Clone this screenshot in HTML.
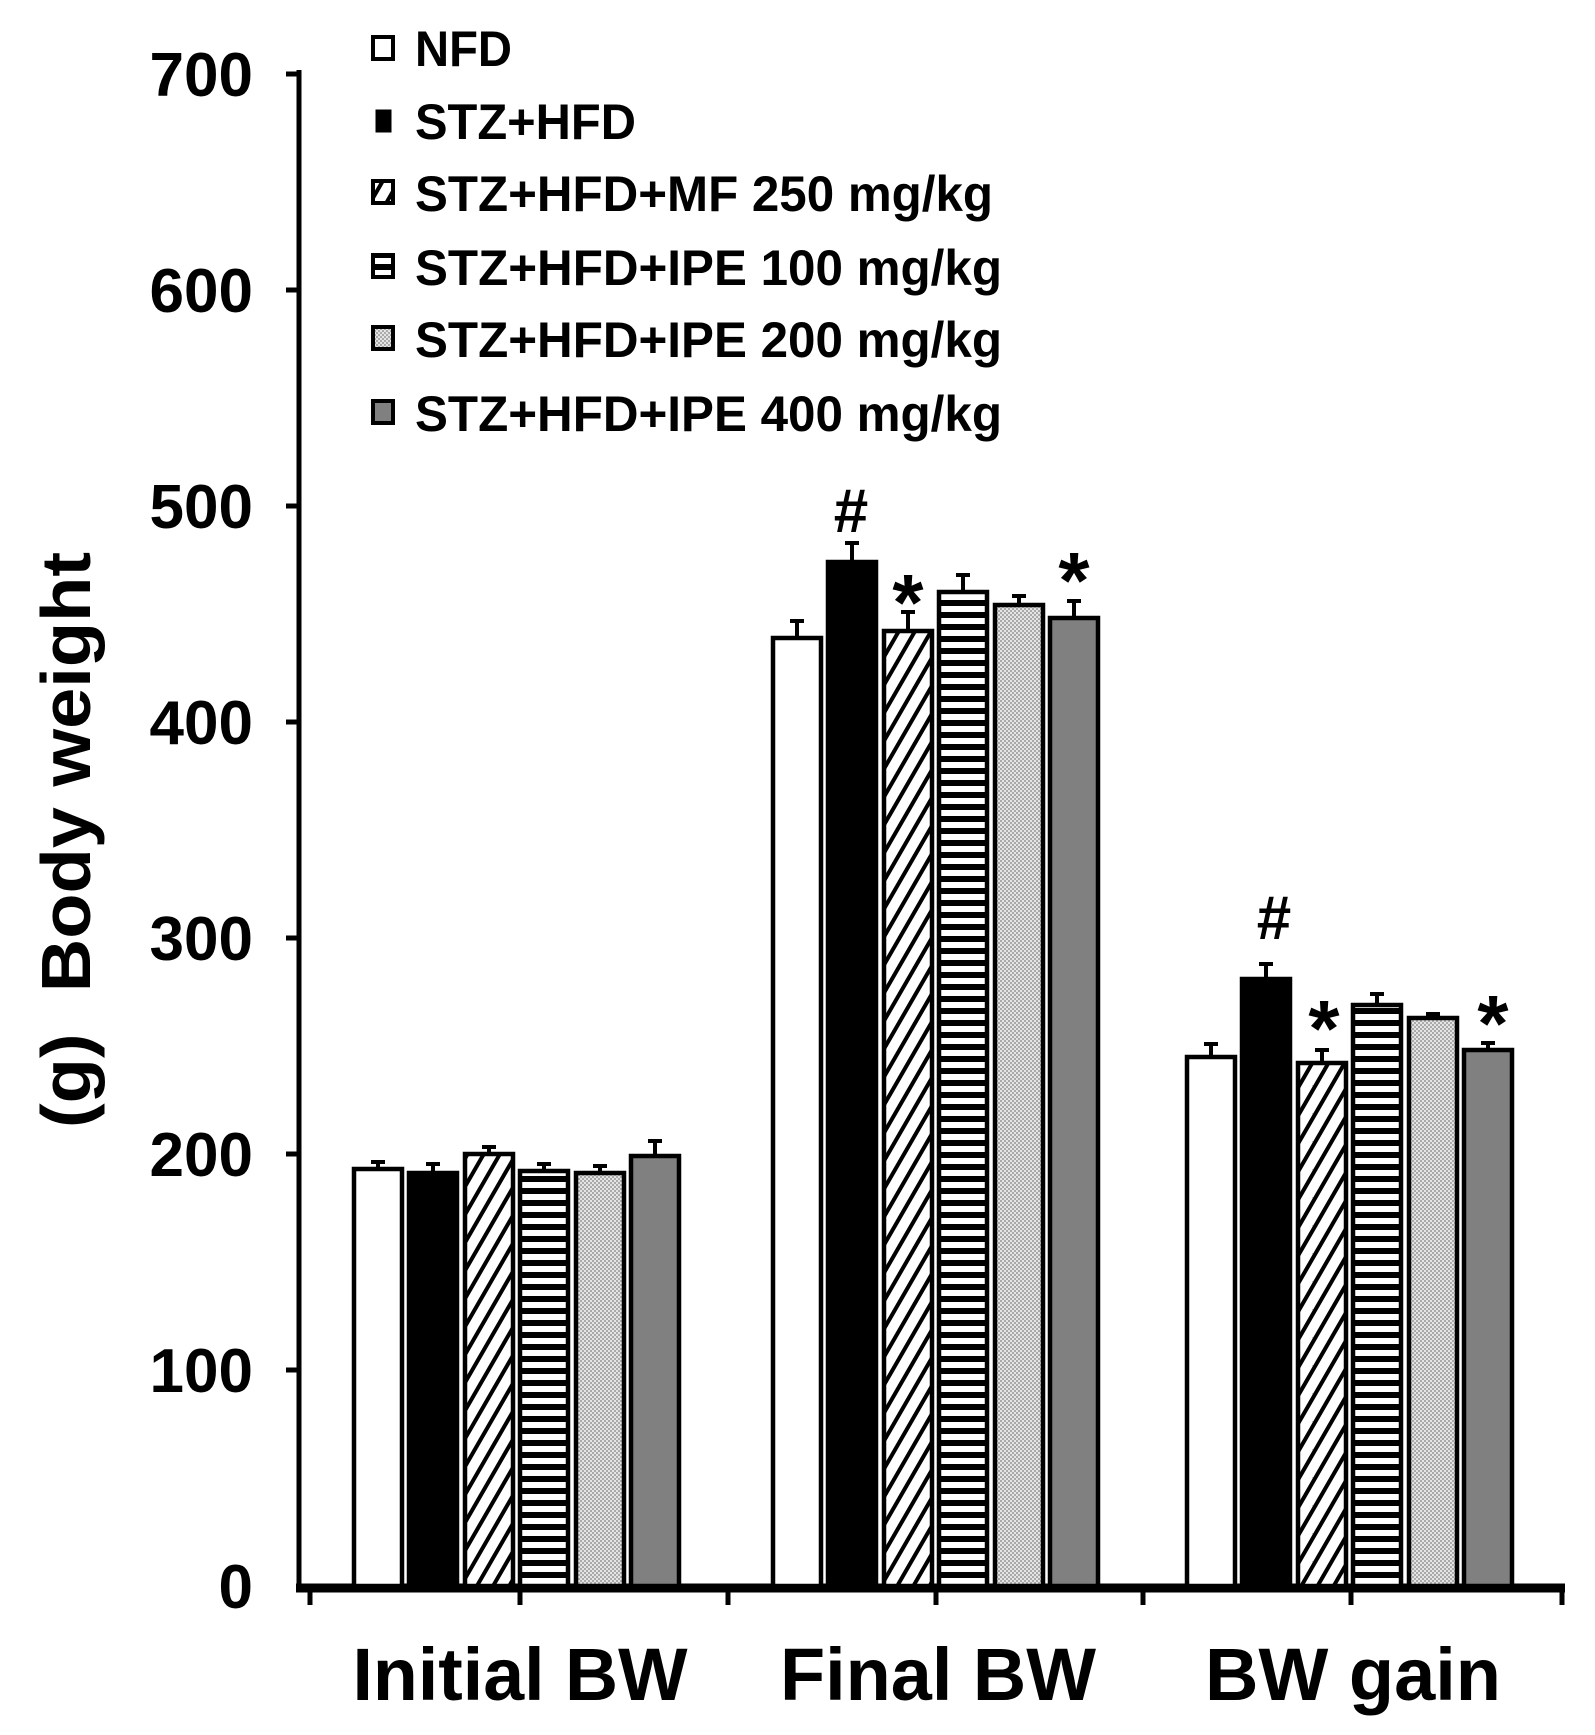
<!DOCTYPE html>
<html><head><meta charset="utf-8"><style>
html,body{margin:0;padding:0;background:#fff;}
svg{display:block;}
text{font-family:"Liberation Sans",Arial,sans-serif;font-weight:bold;fill:#000;}
</style></head><body>
<svg width="1595" height="1735" viewBox="0 0 1595 1735" xmlns="http://www.w3.org/2000/svg">
<defs>
<pattern id="diag" patternUnits="userSpaceOnUse" width="14" height="14" patternTransform="rotate(30)">
<rect width="14" height="14" fill="#fff"/><rect x="0" y="0" width="4" height="14" fill="#000"/>
</pattern>
<pattern id="hstr" patternUnits="userSpaceOnUse" width="10" height="12">
<rect width="10" height="12" fill="#fff"/><rect x="0" y="0" width="10" height="6" fill="#000"/>
</pattern>
<pattern id="dots" patternUnits="userSpaceOnUse" width="4" height="4">
<rect width="4" height="4" fill="#e4e4e4"/><rect width="2" height="2" fill="#aaa"/><rect x="2" y="2" width="2" height="2" fill="#aaa"/>
</pattern>
</defs>

<line x1="299" y1="70" x2="299" y2="1590" stroke="#000" stroke-width="5"/>
<line x1="296" y1="1588" x2="1565" y2="1588" stroke="#000" stroke-width="9"/>
<g stroke="#000" stroke-width="5">
<line x1="286" y1="74" x2="299" y2="74"/>
<line x1="286" y1="290" x2="299" y2="290"/>
<line x1="286" y1="506" x2="299" y2="506"/>
<line x1="286" y1="722" x2="299" y2="722"/>
<line x1="286" y1="938" x2="299" y2="938"/>
<line x1="286" y1="1154" x2="299" y2="1154"/>
<line x1="286" y1="1370" x2="299" y2="1370"/>
<line x1="310" y1="1588" x2="310" y2="1605"/>
<line x1="520" y1="1588" x2="520" y2="1605"/>
<line x1="728" y1="1588" x2="728" y2="1605"/>
<line x1="936" y1="1588" x2="936" y2="1605"/>
<line x1="1143" y1="1588" x2="1143" y2="1605"/>
<line x1="1351" y1="1588" x2="1351" y2="1605"/>
<line x1="1562" y1="1588" x2="1562" y2="1605"/>
</g>
<g font-size="62" text-anchor="end">
<text x="253" y="96">700</text>
<text x="253" y="312">600</text>
<text x="253" y="528">500</text>
<text x="253" y="744">400</text>
<text x="253" y="960">300</text>
<text x="253" y="1176">200</text>
<text x="253" y="1392">100</text>
<text x="253" y="1608">0</text>
</g>
<text transform="translate(90,840) rotate(-90)" font-size="70" text-anchor="middle" textLength="576" lengthAdjust="spacingAndGlyphs" xml:space="preserve">(g)  Body weight</text>
<g font-size="74" text-anchor="middle">
<text x="520" y="1700" textLength="335" lengthAdjust="spacingAndGlyphs">Initial BW</text>
<text x="938" y="1700" textLength="316" lengthAdjust="spacingAndGlyphs">Final BW</text>
<text x="1353" y="1700" textLength="296" lengthAdjust="spacingAndGlyphs">BW gain</text>
</g>

<g stroke="#000" stroke-width="4.5">
<rect x="354" y="1169" width="48" height="417" fill="#fff"/>
<rect x="409" y="1173" width="48" height="413" fill="#000"/>
<rect x="465" y="1154" width="48" height="432" fill="url(#diag)"/>
<rect x="520" y="1171" width="48" height="415" fill="url(#hstr)"/>
<rect x="576" y="1173" width="48" height="413" fill="url(#dots)"/>
<rect x="631" y="1156" width="48" height="430" fill="#808080"/>
<rect x="773" y="638" width="48" height="948" fill="#fff"/>
<rect x="828" y="562" width="48" height="1024" fill="#000"/>
<rect x="884" y="631" width="48" height="955" fill="url(#diag)"/>
<rect x="939" y="592" width="48" height="994" fill="url(#hstr)"/>
<rect x="995" y="605" width="48" height="981" fill="url(#dots)"/>
<rect x="1050" y="618" width="48" height="968" fill="#808080"/>
<rect x="1187" y="1057" width="48" height="529" fill="#fff"/>
<rect x="1242" y="979" width="48" height="607" fill="#000"/>
<rect x="1298" y="1063" width="48" height="523" fill="url(#diag)"/>
<rect x="1353" y="1005" width="48" height="581" fill="url(#hstr)"/>
<rect x="1409" y="1018" width="48" height="568" fill="url(#dots)"/>
<rect x="1464" y="1050" width="48" height="536" fill="#808080"/>
</g>
<g stroke="#000" stroke-width="4" fill="none">
<path d="M378 1169V1162M371 1162H385"/>
<path d="M433 1173V1164M426 1164H440"/>
<path d="M489 1154V1147M482 1147H496"/>
<path d="M544 1171V1164M537 1164H551"/>
<path d="M600 1173V1166M593 1166H607"/>
<path d="M655 1156V1141M648 1141H662"/>
<path d="M797 638V621M790 621H804"/>
<path d="M852 562V543M845 543H859"/>
<path d="M908 631V612M901 612H915"/>
<path d="M963 592V575M956 575H970"/>
<path d="M1019 605V596M1012 596H1026"/>
<path d="M1074 618V601M1067 601H1081"/>
<path d="M1211 1057V1044M1204 1044H1218"/>
<path d="M1266 979V964M1259 964H1273"/>
<path d="M1322 1063V1050M1315 1050H1329"/>
<path d="M1377 1005V994M1370 994H1384"/>
<path d="M1433 1018V1014M1426 1014H1440"/>
<path d="M1488 1050V1043M1481 1043H1495"/>
</g>
<g text-anchor="middle">
<text x="851" y="532" font-size="62">#</text>
<text x="1274" y="939" font-size="62">#</text>
<text x="908" y="630" font-size="80">*</text>
<text x="1074" y="608" font-size="80">*</text>
<text x="1324" y="1056" font-size="80">*</text>
<text x="1493" y="1051" font-size="80">*</text>
</g>

<g stroke="#000" stroke-width="4">
<rect x="373" y="37" width="20" height="22" fill="#fff"/>
<rect x="376" y="110" width="15" height="22" fill="#000" stroke-width="1"/>
<rect x="373" y="181" width="20" height="22" fill="url(#diag)"/>
<rect x="373" y="255" width="20" height="22" fill="url(#hstr)"/>
<rect x="373" y="327" width="20" height="22" fill="url(#dots)"/>
<rect x="373" y="401" width="20" height="22" fill="#808080"/>
</g>
<g font-size="50">
<text x="415" y="66" textLength="97" lengthAdjust="spacingAndGlyphs">NFD</text>
<text x="415" y="139" textLength="221" lengthAdjust="spacingAndGlyphs">STZ+HFD</text>
<text x="415" y="211" textLength="578" lengthAdjust="spacingAndGlyphs">STZ+HFD+MF 250 mg/kg</text>
<text x="415" y="285" textLength="587" lengthAdjust="spacingAndGlyphs">STZ+HFD+IPE 100 mg/kg</text>
<text x="415" y="357" textLength="587" lengthAdjust="spacingAndGlyphs">STZ+HFD+IPE 200 mg/kg</text>
<text x="415" y="431" textLength="587" lengthAdjust="spacingAndGlyphs">STZ+HFD+IPE 400 mg/kg</text>
</g>
</svg>
</body></html>
